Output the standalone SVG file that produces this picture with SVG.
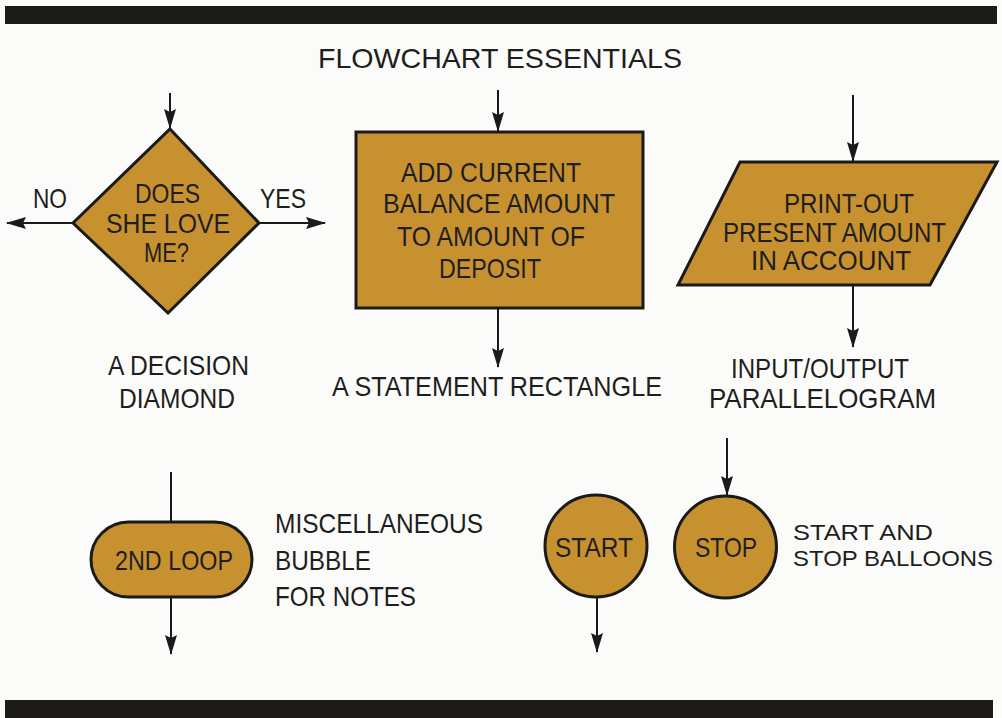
<svg xmlns="http://www.w3.org/2000/svg" width="1002" height="718" viewBox="0 0 1002 718">
<style>
.bg{fill:#fbfbf9}
.bar{fill:#1c1a18}
.shape{fill:#c8912f;stroke:#1a1a1a;stroke-width:3;stroke-linejoin:miter}
.t{font-family:"Liberation Sans",Arial,sans-serif;font-size:28px;fill:#1e1e1e}
.s{font-size:22.5px}
.c{stroke:#1a1a1a;stroke-width:2;fill:none}
</style>
<defs>
<marker id="ah" viewBox="0 0 20 12" markerWidth="20" markerHeight="12" refX="19" refY="6" orient="auto" markerUnits="userSpaceOnUse">
<path d="M0,0 L20,6 L0,12 L3,6 z" fill="#1a1a1a"/>
</marker>
</defs>
<rect class="bg" x="0" y="0" width="1002" height="718"/>
<rect class="bar" x="5" y="6" width="992" height="18"/>
<rect class="bar" x="5" y="700" width="988" height="18"/>
<text class="t" x="318" y="68" textLength="364" lengthAdjust="spacingAndGlyphs">FLOWCHART ESSENTIALS</text>

<g id="connectors">
<line class="c" x1="170" y1="93" x2="170" y2="128" marker-end="url(#ah)"/>
<line class="c" x1="73" y1="223" x2="7" y2="223" marker-end="url(#ah)"/>
<line class="c" x1="259" y1="223" x2="325" y2="223" marker-end="url(#ah)"/>
<line class="c" x1="498" y1="90" x2="498" y2="131" marker-end="url(#ah)"/>
<line class="c" x1="498" y1="308" x2="498" y2="367" marker-end="url(#ah)"/>
<line class="c" x1="853" y1="95" x2="853" y2="161" marker-end="url(#ah)"/>
<line class="c" x1="853" y1="285" x2="853" y2="347" marker-end="url(#ah)"/>
<line class="c" x1="171" y1="472" x2="171" y2="522"/>
<line class="c" x1="171" y1="597" x2="171" y2="654" marker-end="url(#ah)"/>
<line class="c" x1="727" y1="438" x2="727" y2="495" marker-end="url(#ah)"/>
<line class="c" x1="597" y1="597" x2="597" y2="652" marker-end="url(#ah)"/>
</g>

<g id="decision">
<polygon class="shape" points="170,129 259,223 168,313 73,223"/>
<text class="t" x="135" y="203" textLength="65" lengthAdjust="spacingAndGlyphs">DOES</text>
<text class="t" x="106" y="233" textLength="124" lengthAdjust="spacingAndGlyphs">SHE LOVE</text>
<text class="t" x="144" y="262" textLength="45" lengthAdjust="spacingAndGlyphs">ME?</text>
<text class="t" x="33" y="208" textLength="34" lengthAdjust="spacingAndGlyphs">NO</text>
<text class="t" x="260" y="208" textLength="46" lengthAdjust="spacingAndGlyphs">YES</text>
<text class="t" x="108" y="375" textLength="141" lengthAdjust="spacingAndGlyphs">A DECISION</text>
<text class="t" x="119" y="408" textLength="116" lengthAdjust="spacingAndGlyphs">DIAMOND</text>
</g>

<g id="statement">
<rect class="shape" x="356" y="132" width="287" height="176"/>
<text class="t" x="401" y="182" textLength="180" lengthAdjust="spacingAndGlyphs">ADD CURRENT</text>
<text class="t" x="383" y="213" textLength="232" lengthAdjust="spacingAndGlyphs">BALANCE AMOUNT</text>
<text class="t" x="397" y="246" textLength="188" lengthAdjust="spacingAndGlyphs">TO AMOUNT OF</text>
<text class="t" x="439" y="278" textLength="102" lengthAdjust="spacingAndGlyphs">DEPOSIT</text>
<text class="t" x="332" y="396" textLength="330" lengthAdjust="spacingAndGlyphs">A STATEMENT RECTANGLE</text>
</g>

<g id="io">
<polygon class="shape" points="740,162 997,162 930,285 678,285"/>
<text class="t" x="784" y="213" textLength="130" lengthAdjust="spacingAndGlyphs">PRINT-OUT</text>
<text class="t" x="723" y="242" textLength="223" lengthAdjust="spacingAndGlyphs">PRESENT AMOUNT</text>
<text class="t" x="751" y="270" textLength="160" lengthAdjust="spacingAndGlyphs">IN ACCOUNT</text>
<text class="t" x="731" y="378" textLength="178" lengthAdjust="spacingAndGlyphs">INPUT/OUTPUT</text>
<text class="t" x="709" y="408" textLength="227" lengthAdjust="spacingAndGlyphs">PARALLELOGRAM</text>
</g>

<g id="bubble">
<rect class="shape" x="91" y="522" width="161" height="75" rx="37.5" ry="37.5"/>
<text class="t" x="115" y="570" textLength="118" lengthAdjust="spacingAndGlyphs">2ND LOOP</text>
<text class="t" x="275" y="533" textLength="208" lengthAdjust="spacingAndGlyphs">MISCELLANEOUS</text>
<text class="t" x="275" y="570" textLength="96" lengthAdjust="spacingAndGlyphs">BUBBLE</text>
<text class="t" x="275" y="606" textLength="141" lengthAdjust="spacingAndGlyphs">FOR NOTES</text>
</g>

<g id="start">
<circle class="shape" cx="596" cy="546" r="51"/>
<text class="t" x="555" y="557" textLength="78" lengthAdjust="spacingAndGlyphs">START</text>
</g>

<g id="stop">
<circle class="shape" cx="725.5" cy="547" r="51"/>
<text class="t" x="695" y="557" textLength="62" lengthAdjust="spacingAndGlyphs">STOP</text>
<text class="t s" x="793" y="540" textLength="140" lengthAdjust="spacingAndGlyphs">START AND</text>
<text class="t s" x="793" y="566" textLength="200" lengthAdjust="spacingAndGlyphs">STOP BALLOONS</text>
</g>
</svg>
